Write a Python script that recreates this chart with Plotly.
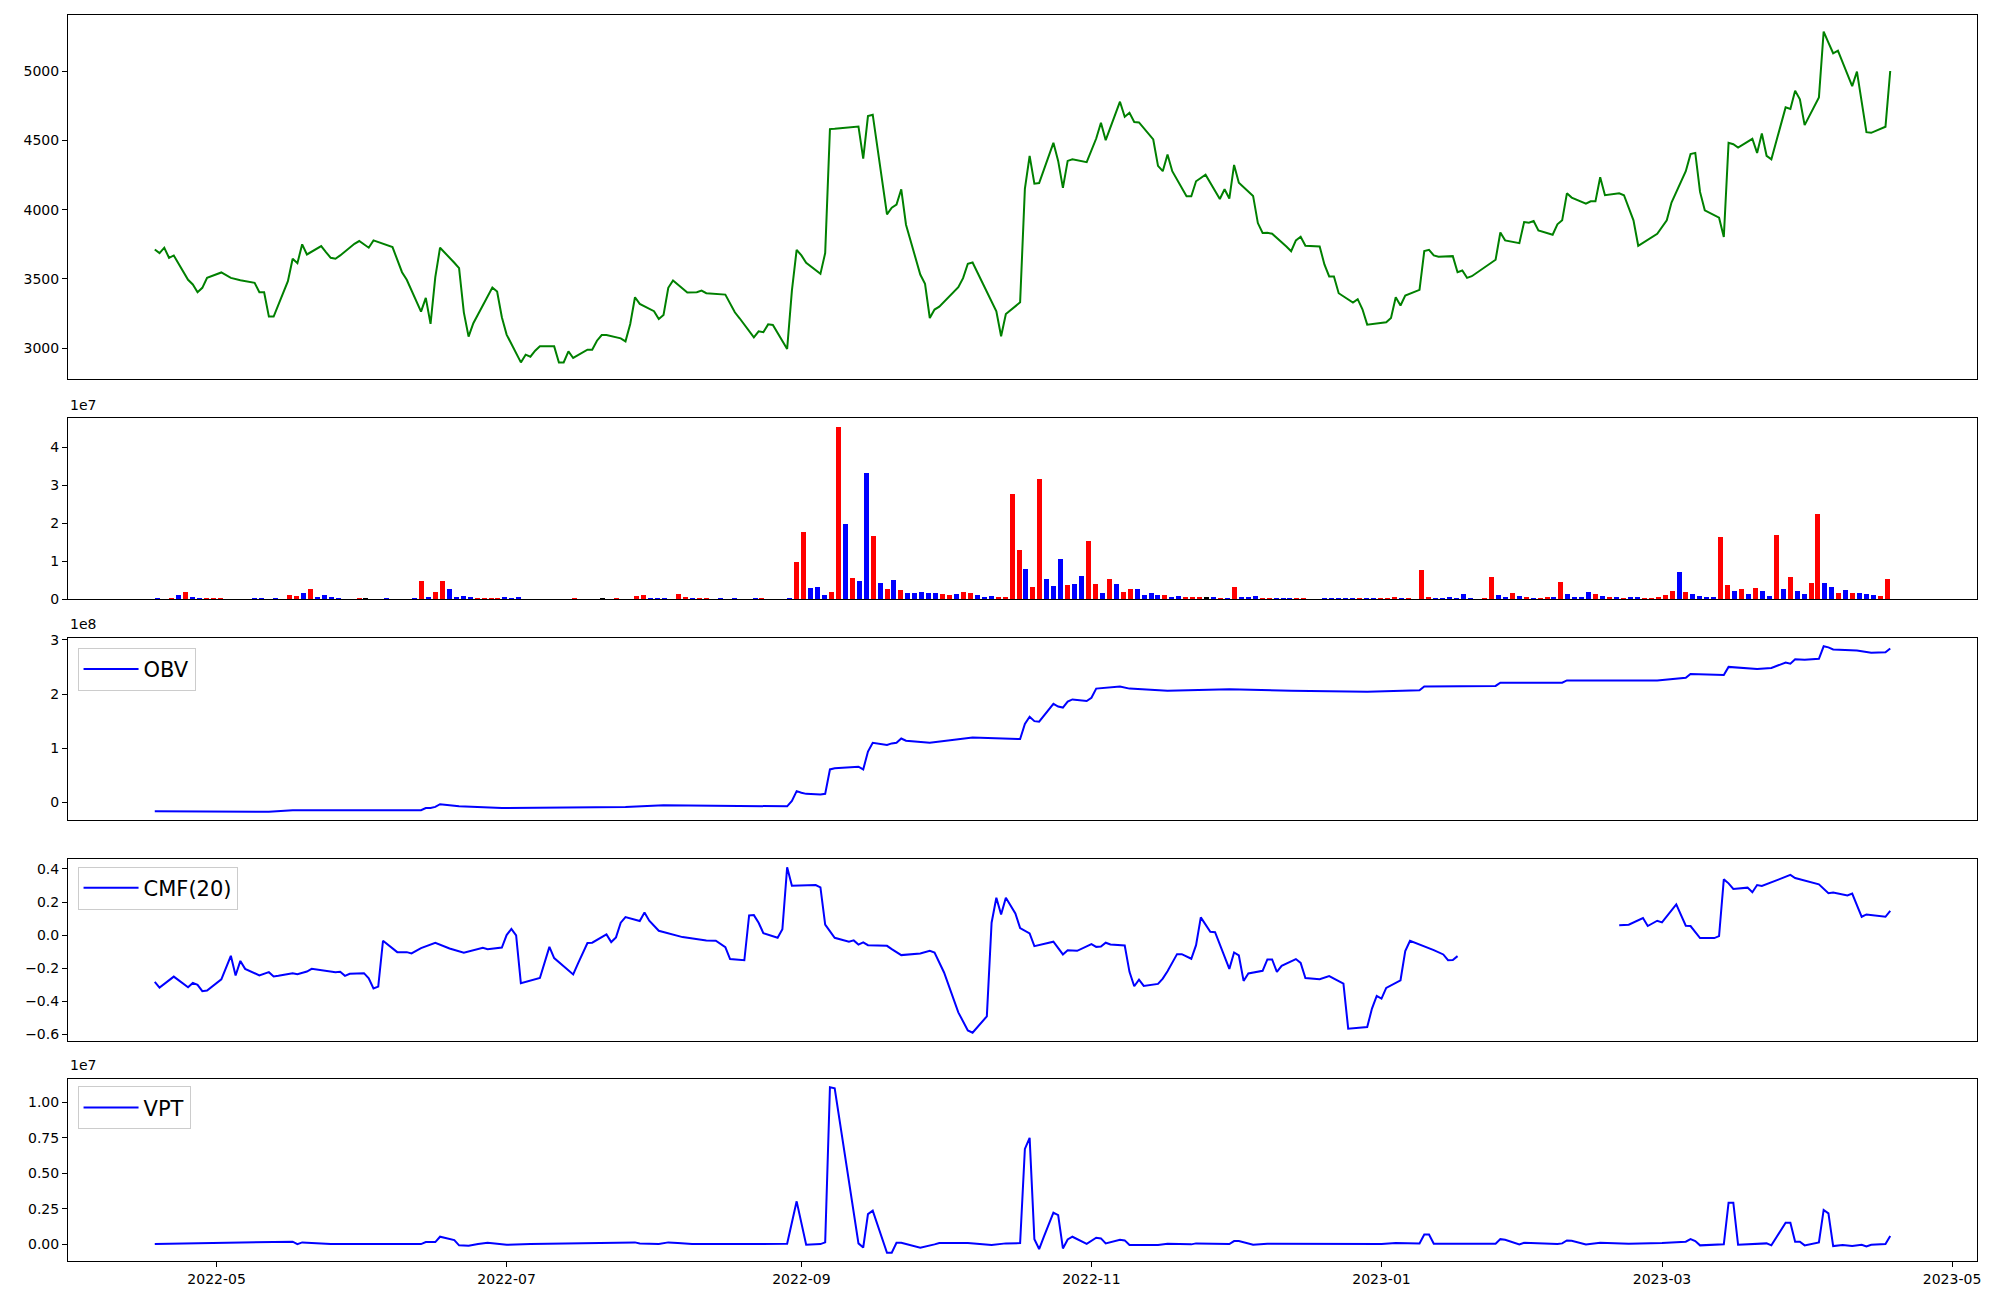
import numpy as np
import pandas as pd
import plotly.graph_objects as go

# ---------------- data ----------------
START = "2022-04-18"
END = "2023-04-18"
KRX_HOLIDAYS = ["2022-05-05", "2022-06-01", "2022-06-06", "2022-08-15", "2022-09-09",
                "2022-09-12", "2022-10-03", "2022-10-10", "2022-12-30", "2023-01-23",
                "2023-01-24", "2023-03-01"]

close = [
    3712, 3686, 3725, 3652, 3669, 3493, 3459, 3403, 3435, 3507,
    3546, 3526, 3507, 3490, 3471, 3403, 3403, 3227, 3227, 3483, 3645, 3613, 3749, 3676, 3737,
    3693, 3652, 3645, 3669, 3753, 3773,
    3725, 3778, 3729, 3633, 3548, 3493, 3263, 3362, 3174, 3512, 3725, 3616, 3577, 3258, 3082,
    3179, 3367, 3437, 3408, 3222,
    3097, 2896, 2952, 2937, 2981, 3012, 3012, 2896, 2896, 2976, 2928, 2988, 2988, 3053, 3094,
    3094, 3070, 3048, 3174, 3367, 3319,
    3266, 3210, 3239, 3435, 3488, 3401, 3403, 3403, 3415, 3396, 3386, 3324, 3258, 3215, 3077,
    3121, 3114, 3171, 3167, 2993, 3415, 3710,
    3669, 3616, 3536, 3686, 4582, 4584, 4601, 4369, 4676, 4686, 3966, 4014, 4036, 4147, 3891,
    3531, 3464, 3217, 3278, 3299,
    3440, 3505, 3609, 3618, 3338, 3266, 3085, 3246, 3330, 4150, 4389, 4188, 4192, 4483, 4352,
    4157, 4352, 4364, 4343,
    4430, 4514, 4628, 4502, 4780, 4671, 4700, 4633, 4630, 4507, 4316, 4278, 4398, 4278, 4096,
    4096, 4205, 4229, 4253, 4077, 4147, 4080,
    4323, 4195, 4099, 3903, 3831, 3833, 3826, 3734, 3700, 3778, 3804, 3739, 3734, 3604, 3517,
    3517, 3396, 3328, 3353, 3280, 3169,
    3186, 3217, 3367, 3307, 3379, 3420, 3700, 3710, 3669, 3659, 3664, 3548, 3560, 3507, 3519,
    3638, 3835, 3778, 3758, 3910,
    3906, 3918, 3850, 3819, 3894, 3923, 4118, 4087, 4043, 4060, 4060, 4234, 4104, 4118, 4104,
    4017, 3923, 3739, 3809, 3826,
    3923, 4051, 4278, 4401, 4410, 4128, 3995, 3942, 3802, 4483, 4473, 4449, 4512, 4410, 4550,
    4389, 4364, 4739, 4727, 4860, 4797, 4611,
    4811, 5287, 5207, 5130, 5149, 4893, 4997, 4787, 4560, 4555, 4599, 5002,
]

volume_1e7 = [
    0.03, 0, 0.03, 0.10, 0.18, 0.05, 0.03, 0.03, 0.03, 0.03,
    0, 0, 0, 0, 0.03, 0.03, 0, 0.03, 0, 0.10,
    0.08, 0.16, 0.26, 0.05, 0.10, 0.05, 0.03, 0, 0, 0.03,
    0.03, 0, 0, 0.03, 0, 0, 0, 0.03, 0.47, 0.05,
    0.18, 0.47, 0.26, 0.05, 0.08, 0.05, 0.03, 0.03, 0.03, 0.03,
    0.05, 0.03, 0.05, 0, 0, 0, 0, 0, 0, 0,
    0.03, 0, 0, 0, 0.03, 0, 0.03, 0, 0, 0.08,
    0.10, 0.03, 0.03, 0.03, 0, 0.13, 0.05, 0.03, 0.03, 0.03,
    0, 0.03, 0, 0.03, 0, 0, 0.03, 0.03, 0, 0,
    0, 0.03, 0.97, 1.78, 0.29, 0.31, 0.10, 0.18, 4.54, 1.97,
    0.55, 0.47, 3.31, 1.65, 0.42, 0.26, 0.50, 0.24, 0.16, 0.16,
    0.18, 0.16, 0.16, 0.13, 0.10, 0.13, 0.18, 0.16, 0.10, 0.05,
    0.08, 0.05, 0.05, 2.76, 1.29, 0.79, 0.31, 3.15, 0.52, 0.34,
    1.05, 0.37, 0.39, 0.60, 1.52, 0.39, 0.16, 0.52, 0.39, 0.18,
    0.26, 0.26, 0.10, 0.16, 0.10, 0.10, 0.05, 0.08, 0.05, 0.05,
    0.05, 0.05, 0.05, 0.03, 0.03, 0.31, 0.05, 0.05, 0.08, 0.03,
    0.03, 0.03, 0.03, 0.03, 0.03, 0.03, 0, 0, 0.03, 0.03,
    0.03, 0.03, 0.03, 0.03, 0.03, 0.03, 0.03, 0.03, 0.05, 0.03,
    0.03, 0, 0.76, 0.05, 0.03, 0.03, 0.05, 0.03, 0.13, 0.03,
    0, 0.03, 0.58, 0.10, 0.05, 0.16, 0.08, 0.05, 0.03, 0.03,
    0.05, 0.05, 0.45, 0.13, 0.05, 0.05, 0.18, 0.13, 0.08, 0.05,
    0.05, 0.03, 0.05, 0.05, 0.03, 0.03, 0.05, 0.10, 0.21, 0.71,
    0.18, 0.13, 0.08, 0.05, 0.05, 1.63, 0.37, 0.21, 0.26, 0.13,
    0.29, 0.21, 0.08, 1.68, 0.26, 0.58, 0.21, 0.13, 0.42, 2.23,
    0.42, 0.31, 0.16, 0.24, 0.16, 0.16, 0.13, 0.10, 0.08, 0.52,
]
# r = up candle, b = down candle, k = unchanged
volume_colour_codes = (
    "bbrbrbbrrr" "bbbbbbbbbr" "rbrbbbbbbr" "kbbbbbbbrb" "rrbbbbrrrr"
    "bbbbbbbbbb" "rbbbkbrbbr" "rbbbbrrbrr" "bbbbbbbrbb" "bbrrbbbrrb"
    "rbbrbrbrbb" "bbbrrbrrbb" "brrrrbrrbb" "brbbrrbrbr" "rbbbbrbbrr"
    "rkbrbrbbbr" "rbbbrrbbbb" "bbbrbbrrrb" "rbrrbbbbbb" "brrbbrbrbr"
    "rbrbbbbrbr" "brbbrrrrrb" "rbbbbrrbrb" "rbbrbrbbrr" "bbrbrbbbrr"
)

obv_days = [0, 24, 29, 56, 57, 58, 59, 60, 63, 64, 73, 99, 107, 133, 134, 135, 136, 137, 140,
            141, 142, 143, 148, 149, 150, 151, 154, 155, 156, 157, 158, 163, 172, 182, 183, 184,
            185, 186, 189, 190, 191, 192, 193, 196, 197, 198, 203, 205, 213, 226, 239, 255, 266,
            267, 282, 283, 296, 297, 316, 322, 323, 330, 331, 337, 340, 343, 344, 345, 347, 350,
            351, 352, 353, 358, 361, 364, 365]
obv_1e8 = [-0.16, -0.17, -0.14, -0.14, -0.10, -0.10, -0.08, -0.03, -0.06, -0.07, -0.10, -0.08,
           -0.05, -0.07, 0.03, 0.21, 0.18, 0.16, 0.15, 0.16, 0.61, 0.63, 0.66, 0.61, 0.94, 1.10,
           1.06, 1.09, 1.10, 1.18, 1.14, 1.10, 1.20, 1.17, 1.45, 1.58, 1.50, 1.49, 1.82, 1.77,
           1.75, 1.86, 1.90, 1.87, 1.93, 2.10, 2.14, 2.10, 2.06, 2.09, 2.06, 2.04, 2.07, 2.14,
           2.15, 2.21, 2.21, 2.25, 2.25, 2.30, 2.37, 2.35, 2.50, 2.46, 2.48, 2.58, 2.56, 2.64,
           2.63, 2.65, 2.88, 2.86, 2.82, 2.80, 2.76, 2.77, 2.84]

cmf_days = [0, 1, 4, 7, 8, 9, 10, 11, 14, 16, 17, 18, 19, 22, 24, 25, 26, 29, 30, 32, 33, 38,
            39, 40, 41, 44, 45, 46, 47, 48, 51, 53, 54, 56, 59, 62, 65, 69, 70, 73, 74, 75, 76,
            77, 81, 83, 84, 88, 89, 91, 92, 95, 96, 97, 98, 99, 102, 103, 104, 106, 111, 112,
            114, 116, 118, 120, 121, 124, 125, 126, 127, 128, 131, 132, 133, 134, 139, 140, 141,
            143, 146, 147, 148, 149, 150, 154, 155, 157, 161, 163, 164, 166, 169, 171, 172, 175,
            176, 177, 178, 179, 181, 182, 184, 185, 189, 191, 192, 194, 197, 198, 199, 200, 201,
            204, 205, 206, 207, 208, 211, 212, 213, 215, 216, 218, 219, 220, 222, 223, 226, 227,
            228, 229, 230, 233, 234, 235, 236, 237, 240, 241, 242, 245, 247, 249, 250, 251, 255,
            256, 257, 258, 259, 262, 263, 264, 267, 269, 271, 272, 273, 274, 290, 308, 310, 313,
            314, 316, 317, 320, 322, 323, 325, 328, 329, 330, 331, 332, 335, 336, 337, 338, 342,
            343, 344, 345, 350, 352, 353, 356, 357, 359, 360, 364, 365]
cmf_values = [-0.283, -0.317, -0.251, -0.315, -0.289, -0.301, -0.339, -0.335, -0.267, -0.125,
              -0.244, -0.156, -0.204, -0.244, -0.224, -0.250, -0.246, -0.230, -0.236, -0.220,
              -0.204, -0.224, -0.222, -0.246, -0.234, -0.230, -0.261, -0.323, -0.311, -0.034,
              -0.103, -0.103, -0.111, -0.079, -0.046, -0.081, -0.107, -0.077, -0.085, -0.075,
              0.000, 0.038, -0.002, -0.291, -0.259, -0.071, -0.139, -0.238, -0.172, -0.048,
              -0.046, 0.004, -0.042, -0.014, 0.075, 0.109, 0.085, 0.137, 0.087, 0.026, -0.012,
              -0.016, -0.028, -0.032, -0.034, -0.073, -0.145, -0.152, 0.119, 0.121, 0.075,
              0.012, -0.016, 0.036, 0.410, 0.299, 0.303, 0.289, 0.063, -0.016, -0.040, -0.032,
              -0.057, -0.044, -0.061, -0.065, -0.085, -0.121, -0.111, -0.095, -0.105, -0.226,
              -0.467, -0.576, -0.590, -0.491, 0.075, 0.226, 0.125, 0.226, 0.131, 0.042, 0.010,
              -0.067, -0.040, -0.117, -0.091, -0.095, -0.055, -0.071, -0.069, -0.046, -0.057,
              -0.063, -0.222, -0.309, -0.269, -0.307, -0.295, -0.263, -0.218, -0.115, -0.115,
              -0.143, -0.061, 0.107, 0.020, 0.018, -0.204, -0.105, -0.123, -0.277, -0.232,
              -0.216, -0.147, -0.147, -0.222, -0.186, -0.145, -0.168, -0.259, -0.267, -0.248,
              -0.279, -0.293, -0.566, -0.556, -0.444, -0.368, -0.384, -0.319, -0.273, -0.097,
              -0.034, -0.067, -0.091, -0.117, -0.152, -0.150, -0.127, None, 0.059, 0.063,
              0.103, 0.055, 0.087, 0.077, 0.186, 0.057, 0.055, -0.018, -0.018, -0.006, 0.337,
              0.313, 0.279, 0.287, 0.259, 0.303, 0.297, 0.339, 0.349, 0.364, 0.345, 0.307,
              0.253, 0.257, 0.240, 0.251, 0.111, 0.125, 0.111, 0.147]

vpt_days = [0, 29, 30, 31, 37, 56, 57, 59, 60, 63, 64, 66, 68, 70, 74, 79, 101, 102, 106, 108,
            110, 113, 133, 135, 137, 140, 141, 142, 143, 148, 149, 150, 151, 154, 155, 156, 157,
            161, 164, 165, 171, 176, 179, 182, 183, 184, 185, 186, 187, 189, 190, 191, 192, 193,
            196, 198, 199, 200, 203, 204, 205, 211, 213, 218, 219, 226, 227, 228, 231, 234, 258,
            261, 266, 267, 268, 269, 282, 283, 284, 287, 288, 295, 296, 297, 298, 301, 304, 310,
            317, 322, 323, 324, 325, 330, 331, 332, 333, 337, 339, 340, 343, 344, 345, 346, 347,
            350, 351, 352, 353, 355, 357, 359, 360, 361, 364, 365]
vpt_1e7 = [0.000, 0.017, 0.000, 0.012, 0.000, 0.000, 0.014, 0.014, 0.052, 0.028, -0.009, -0.012,
           0.000, 0.009, -0.005, 0.000, 0.012, 0.005, 0.000, 0.012, 0.007, 0.000, 0.002, 0.302,
           -0.005, 0.000, 0.012, 1.108, 1.101, 0.005, -0.024, 0.212, 0.236, -0.061, -0.061, 0.009,
           0.009, -0.026, -0.002, 0.007, 0.007, -0.007, 0.005, 0.007, 0.672, 0.750, 0.035,
           -0.035, 0.052, 0.222, 0.205, -0.031, 0.033, 0.052, 0.002, 0.045, 0.040, 0.005, 0.031,
           0.026, -0.007, -0.007, 0.002, -0.002, 0.005, 0.000, 0.021, 0.021, -0.005, 0.002,
           0.000, 0.007, 0.005, 0.068, 0.068, 0.002, 0.002, 0.035, 0.031, -0.002, 0.009, 0.000,
           0.005, 0.026, 0.024, -0.002, 0.009, 0.002, 0.007, 0.017, 0.035, 0.021, -0.009, -0.002,
           0.292, 0.292, -0.005, 0.002, 0.005, -0.009, 0.151, 0.151, 0.017, 0.017, -0.009, 0.012,
           0.241, 0.217, -0.014, -0.007, -0.014, -0.005, -0.017, -0.005, 0.000, 0.057]

# ---------------- derived x values ----------------
trade_dates = pd.bdate_range(START, END, freq="C", holidays=KRX_HOLIDAYS)
assert len(trade_dates) == len(close) == len(volume_1e7) == len(volume_colour_codes)
t0 = pd.Timestamp(START)
def to_dates(days):
    return t0 + pd.to_timedelta(np.array(days, dtype=float), unit="D")

obv_dates = to_dates(obv_days)
cmf_dates = to_dates(cmf_days)
vpt_dates = to_dates(vpt_days)

volume = np.array(volume_1e7) * 1e7
obv = np.array(obv_1e8) * 1e8
vpt = np.array(vpt_1e7) * 1e7
colour_map = {"r": "#ff0000", "b": "#0000ff", "k": "#000000"}
bar_colours = [colour_map[c] for c in volume_colour_codes]
bar_index = np.arange(len(volume))

# ---------------- figure ----------------
FONT = "DejaVu Sans"
fig = go.Figure()
fig.add_trace(go.Scatter(x=trade_dates, y=close, mode="lines", line=dict(color="#008000", width=2),
                         xaxis="x", yaxis="y", showlegend=False))
fig.add_trace(go.Bar(x=bar_index, y=volume, marker=dict(color=bar_colours, line=dict(width=0)),
                     width=0.72, xaxis="x2", yaxis="y2", showlegend=False))
fig.add_trace(go.Scatter(x=obv_dates, y=obv, mode="lines", name="OBV",
                         line=dict(color="#0000ff", width=2), xaxis="x3", yaxis="y3",
                         legend="legend"))
fig.add_trace(go.Scatter(x=cmf_dates, y=cmf_values, mode="lines", name="CMF(20)",
                         line=dict(color="#0000ff", width=2), xaxis="x4", yaxis="y4",
                         connectgaps=False, legend="legend2"))
fig.add_trace(go.Scatter(x=vpt_dates, y=vpt, mode="lines", name="VPT",
                         line=dict(color="#0000ff", width=2), xaxis="x5", yaxis="y5",
                         legend="legend3"))

# axis ranges with matplotlib-like 5 % margins
dmin, dmax = trade_dates.min(), trade_dates.max()
dpad = (dmax - dmin) * 0.05
date_range = [dmin - dpad, dmax + dpad]

def pad_range(lo, hi, frac=0.05):
    s = hi - lo
    return [lo - s * frac, hi + s * frac]

cmf_clean = [v for v in cmf_values if v is not None]
n = len(volume)
bar_pad = (n - 1 + 0.8) * 0.05

axis_common = dict(showline=True, linecolor="black", linewidth=1.1, mirror=True,
                   showgrid=False, zeroline=False, ticks="outside", ticklen=5,
                   tickwidth=1.1, tickcolor="black", automargin=False,
                   tickfont=dict(family=FONT, size=14, color="black"))
hidden_x = dict(axis_common, ticks="", showticklabels=False)

domains = {
    1: [0.7079, 1.0],
    2: [0.5309, 0.6763],
    3: [0.3539, 0.5000],
    4: [0.1766, 0.3226],
    5: [0.0, 0.1461],
}

month_ticks = pd.date_range("2022-05-01", "2023-05-01", freq="2MS")

# the page body adds an 8 px offset, so the figure is 16 px smaller than the window
layout = dict(
    width=1984, height=1284,
    margin=dict(l=60, r=15, t=7, b=31, pad=0, autoexpand=False),
    paper_bgcolor="white", plot_bgcolor="white",
    font=dict(family=FONT, size=14, color="black"),
    bargap=0,
    xaxis=dict(hidden_x, type="date", range=date_range, anchor="y", domain=[0, 1]),
    xaxis2=dict(hidden_x, range=[-0.4 - bar_pad, n - 1 + 0.4 + bar_pad], anchor="y2", domain=[0, 1]),
    xaxis3=dict(hidden_x, type="date", range=date_range, anchor="y3", domain=[0, 1]),
    xaxis4=dict(hidden_x, type="date", range=date_range, anchor="y4", domain=[0, 1]),
    xaxis5=dict(axis_common, type="date", range=date_range, anchor="y5", domain=[0, 1],
                tickvals=list(month_ticks), ticktext=[d.strftime("%Y-%m") for d in month_ticks]),
    yaxis=dict(axis_common, domain=domains[1], anchor="x", range=pad_range(min(close), max(close)),
               tickvals=[3000, 3500, 4000, 4500, 5000],
               ticktext=["3000", "3500", "4000", "4500", "5000"]),
    yaxis2=dict(axis_common, domain=domains[2], anchor="x2", range=[0, volume.max() * 1.05],
                tickvals=[0, 1e7, 2e7, 3e7, 4e7], ticktext=["0", "1", "2", "3", "4"]),
    yaxis3=dict(axis_common, domain=domains[3], anchor="x3", range=pad_range(obv.min(), obv.max()),
                tickvals=[0, 1e8, 2e8, 3e8], ticktext=["0", "1", "2", "3"]),
    yaxis4=dict(axis_common, domain=domains[4], anchor="x4",
                range=pad_range(min(cmf_clean), max(cmf_clean)),
                tickvals=[-0.6, -0.4, -0.2, 0.0, 0.2, 0.4],
                ticktext=["\u22120.6", "\u22120.4", "\u22120.2", "0.0", "0.2", "0.4"]),
    yaxis5=dict(axis_common, domain=domains[5], anchor="x5", range=pad_range(vpt.min(), vpt.max()),
                tickvals=[0, 0.25e7, 0.5e7, 0.75e7, 1e7],
                ticktext=["0.00", "0.25", "0.50", "0.75", "1.00"]),
)

legend_common = dict(xanchor="left", yanchor="top", bgcolor="rgba(255,255,255,0.8)",
                     bordercolor="#cccccc", borderwidth=1, itemwidth=55,
                     font=dict(family=FONT, size=21, color="black"),
                     tracegroupgap=0)
layout["legend"] = dict(legend_common, x=0.005, y=domains[3][1] - 0.008)
layout["legend2"] = dict(legend_common, x=0.005, y=domains[4][1] - 0.006)
layout["legend3"] = dict(legend_common, x=0.005, y=domains[5][1] - 0.006)

offsets = [(2, "1e7"), (3, "1e8"), (5, "1e7")]
layout["annotations"] = [
    dict(text=txt, xref="paper", yref="paper", x=0, y=domains[k][1] + 0.003,
         xanchor="left", yanchor="bottom", showarrow=False,
         font=dict(family=FONT, size=14, color="black"))
    for k, txt in offsets
]

fig.update_layout(**layout)
fig.write_html("out.html")
